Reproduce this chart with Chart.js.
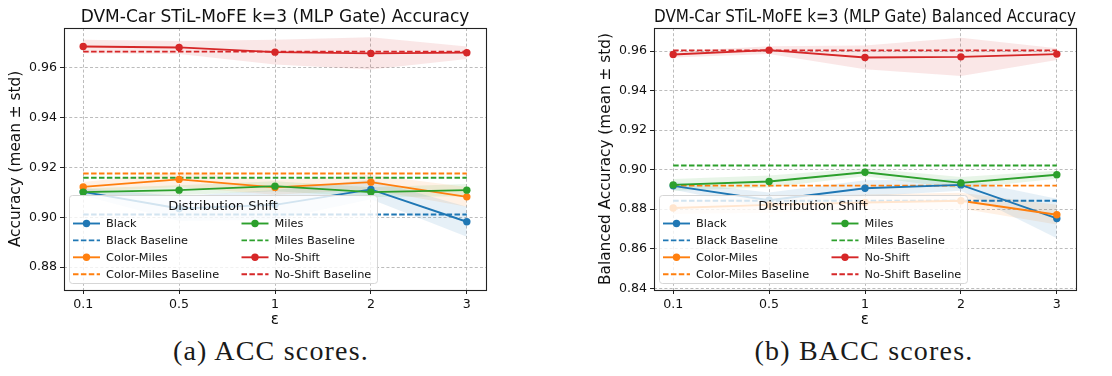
<!DOCTYPE html>
<html>
<head>
<meta charset="utf-8">
<script src="https://cdn.jsdelivr.net/npm/chart.js@4.4.1/dist/chart.umd.min.js"></script>
<style>
  body { margin: 0; background: #fff; width: 1112px; height: 376px; overflow: hidden; position: relative; }
  .pane { position: absolute; top: 0; width: 556px; height: 330px; }
  .caption { position: absolute; top: 335px; width: 400px; margin-left: -200px; font-family: "Liberation Serif", "DejaVu Serif", serif; font-size: 28px; letter-spacing: 1.2px; color: #1a1a1a; text-align: center; }
</style>
</head>
<body>
<div class="pane" style="left:0"><canvas id="accChart" width="556" height="330"></canvas></div>
<div class="pane" style="left:556px"><canvas id="baccChart" width="556" height="330"></canvas></div>
<div class="caption" style="left:271px">(a) ACC scores.</div>
<div class="caption" style="left:864px">(b) BACC scores.</div>
<script>
// epsilon values on the x axis
var epsLabels = ['0.1', '0.5', '1', '2', '3'];
var shiftNames = ['Black', 'Color-Miles', 'Miles', 'No-Shift'];
var shiftColors = ['#1f77b4', '#ff7f0e', '#2ca02c', '#d62728'];

// accuracy, mean and std per epsilon
var accBlack = [0.9102, 0.9035, 0.9050, 0.9112, 0.8982];
var accBlackStd = [0.0015, 0.0050, 0.0060, 0.0040, 0.0060];
var accColorMiles = [0.9122, 0.9152, 0.9120, 0.9141, 0.9082];
var accColorMilesStd = [0.0020, 0.0030, 0.0030, 0.0030, 0.0040];
var accMiles = [0.9101, 0.9109, 0.9125, 0.9101, 0.9109];
var accMilesStd = [0.0015, 0.0020, 0.0020, 0.0020, 0.0025];
var accNoShift = [0.9686, 0.9682, 0.9663, 0.9658, 0.9661];
var accNoShiftStd = [0.0027, 0.0026, 0.0050, 0.0065, 0.0025];
var accBaselines = [0.9011, 0.9176, 0.9159, 0.9665];
var accTicks = [0.88, 0.90, 0.92, 0.94, 0.96];

// balanced accuracy, mean and std per epsilon
var baccBlack = [0.8918, 0.8845, 0.8906, 0.8923, 0.8753];
var baccBlackStd = [0.0020, 0.0040, 0.0040, 0.0030, 0.0100];
var baccColorMiles = [0.8806, 0.8822, 0.8834, 0.8843, 0.8772];
var baccColorMilesStd = [0.0030, 0.0040, 0.0040, 0.0040, 0.0050];
var baccMiles = [0.8923, 0.8940, 0.8987, 0.8933, 0.8974];
var baccMilesStd = [0.0030, 0.0030, 0.0020, 0.0030, 0.0020];
var baccNoShift = [0.9583, 0.9605, 0.9568, 0.9571, 0.9585];
var baccNoShiftStd = [0.0015, 0.0020, 0.0060, 0.0097, 0.0030];
var baccBaselines = [0.8843, 0.8919, 0.9021, 0.9604];
var baccTicks = [0.84, 0.86, 0.88, 0.90, 0.92, 0.94, 0.96];

var FONT = "'DejaVu Sans', sans-serif";

function fade(hex, a) {
  var n = parseInt(hex.slice(1), 16);
  return 'rgba(' + (n >> 16) + ',' + ((n >> 8) & 255) + ',' + (n & 255) + ',' + a + ')';
}

function buildDatasets(means, stds, baselines) {
  var sets = [];
  // std bands: upper edge then lower edge filled back to it
  for (var i = 0; i < shiftNames.length; i++) {
    sets.push({
      label: shiftNames[i] + ' upper',
      data: means[i].map(function(m, j) { return { x: j, y: m + stds[i][j] }; }),
      borderWidth: 0, pointRadius: 0, fill: false, order: 20 + i
    });
    sets.push({
      label: shiftNames[i] + ' lower',
      data: means[i].map(function(m, j) { return { x: j, y: m - stds[i][j] }; }),
      borderWidth: 0, pointRadius: 0, fill: '-1',
      backgroundColor: fade(shiftColors[i], 0.11), order: 20 + i
    });
  }
  for (var i = 0; i < shiftNames.length; i++) {
    sets.push({
      label: shiftNames[i] + ' Baseline',
      data: [{ x: 0, y: baselines[i] }, { x: epsLabels.length - 1, y: baselines[i] }],
      borderColor: shiftColors[i], borderWidth: 1.9, borderDash: [5.5, 2.4],
      pointRadius: 0, fill: false, order: 15 - i
    });
  }
  for (var i = 0; i < shiftNames.length; i++) {
    sets.push({
      label: shiftNames[i],
      data: means[i].map(function(m, j) { return { x: j, y: m }; }),
      borderColor: shiftColors[i], backgroundColor: shiftColors[i], borderWidth: 1.9,
      pointRadius: 3.7, pointBorderWidth: 0, fill: false, order: 5 - i
    });
  }
  return sets;
}

// matplotlib-style legend drawn inside the lower left of the axes
var insideLegend = {
  id: 'insideLegend',
  afterDatasetsDraw: function(chart) {
    var ctx = chart.ctx, a = chart.chartArea;
    var bx = a.left + 5, by = a.bottom - 95, bw = 308, bh = 88;
    ctx.save();
    ctx.beginPath();
    ctx.roundRect(bx + 0.5, by + 0.5, bw, bh, 3);
    ctx.fillStyle = 'rgba(255,255,255,0.8)';
    ctx.fill();
    ctx.strokeStyle = '#d6d6d6';
    ctx.lineWidth = 1;
    ctx.stroke();
    ctx.fillStyle = '#111';
    ctx.font = '13px ' + FONT;
    ctx.textBaseline = 'middle';
    ctx.textAlign = 'center';
    ctx.fillText('Distribution Shift', bx + bw / 2, by + 11.5);
    ctx.font = '11.3px ' + FONT;
    ctx.textAlign = 'left';
    var entries = [];
    shiftNames.forEach(function(n, i) {
      entries.push({ text: n, color: shiftColors[i], dashed: false });
      entries.push({ text: n + ' Baseline', color: shiftColors[i], dashed: true });
    });
    entries.forEach(function(e, k) {
      var col = Math.floor(k / 4), row = k % 4;
      var hx = bx + 4 + col * 168.5, ty = by + 28.5 + row * 16.9;
      ctx.strokeStyle = e.color;
      ctx.lineWidth = 1.9;
      ctx.setLineDash(e.dashed ? [5.5, 2.4] : []);
      ctx.beginPath();
      ctx.moveTo(hx, ty);
      ctx.lineTo(hx + 27, ty);
      ctx.stroke();
      ctx.setLineDash([]);
      if (!e.dashed) {
        ctx.fillStyle = e.color;
        ctx.beginPath();
        ctx.arc(hx + 13.5, ty, 3.7, 0, Math.PI * 2);
        ctx.fill();
      }
      ctx.fillStyle = '#111';
      ctx.fillText(e.text, hx + 33, ty + 0.5);
    });
    ctx.restore();
  },
  afterDraw: function(chart) {
    var ctx = chart.ctx, a = chart.chartArea;
    ctx.save();
    ctx.strokeStyle = '#222';
    ctx.lineWidth = 1.1;
    ctx.strokeRect(Math.round(a.left) + 0.5, Math.round(a.top) + 0.5, Math.round(a.right - a.left), Math.round(a.bottom - a.top));
    ctx.restore();
  }
};

function makeChart(id, title, yTitle, sets, yTicks, yMin, yMax, padLeft, padRight) {
  return new Chart(document.getElementById(id), {
    type: 'line',
    data: { datasets: sets },
    plugins: [insideLegend],
    options: {
      responsive: false,
      animation: false,
      layout: { padding: { left: padLeft, right: padRight, top: 0, bottom: 0 } },
      plugins: {
        legend: { display: false },
        tooltip: { enabled: false },
        title: {
          display: true, text: title, fullSize: false, color: '#111',
          font: { family: FONT, size: 17, weight: 'normal' },
          padding: { top: 7, bottom: 0.6 }
        }
      },
      scales: {
        x: {
          type: 'linear', min: -0.2, max: epsLabels.length - 0.8,
          afterBuildTicks: function(s) { s.ticks = epsLabels.map(function(l, i) { return { value: i }; }); },
          afterFit: function(s) { s.height = 40; },
          ticks: { color: '#111', font: { family: FONT, size: 12.6 }, padding: 3,
            callback: function(v) { return epsLabels[v]; } },
          grid: { color: '#b4b4b4', lineWidth: 0.9, tickColor: '#222', tickLength: 4, tickWidth: 1 },
          border: { display: false, dash: [3, 2.2] },
          title: { display: true, text: 'ε', color: '#111', font: { family: FONT, size: 15.3 }, padding: { top: 0, bottom: 1 } }
        },
        y: {
          min: yMin, max: yMax,
          afterBuildTicks: function(s) { s.ticks = yTicks.map(function(v) { return { value: v }; }); },
          afterFit: function(s) { s.width = 60; },
          ticks: { color: '#111', font: { family: FONT, size: 12.6 }, padding: 3,
            callback: function(v) { return v.toFixed(2); } },
          grid: { color: '#b4b4b4', lineWidth: 0.9, tickColor: '#222', tickLength: 4, tickWidth: 1 },
          border: { display: false, dash: [3, 2.2] },
          title: { display: true, text: yTitle, color: '#111', font: { family: FONT, size: 15.3 }, padding: { top: 3, bottom: 1 } }
        }
      }
    }
  });
}

makeChart('accChart', 'DVM-Car STiL-MoFE k=3 (MLP Gate) Accuracy', 'Accuracy (mean ± std)',
  buildDatasets([accBlack, accColorMiles, accMiles, accNoShift],
    [accBlackStd, accColorMilesStd, accMilesStd, accNoShiftStd], accBaselines),
  accTicks, 0.8708, 0.9760, 4, 70);

makeChart('baccChart', 'DVM-Car STiL-MoFE k=3 (MLP Gate) Balanced Accuracy', 'Balanced Accuracy (mean ± std)',
  buildDatasets([baccBlack, baccColorMiles, baccMiles, baccNoShift],
    [baccBlackStd, baccColorMilesStd, baccMilesStd, baccNoShiftStd], baccBaselines),
  baccTicks, 0.8391, 0.9717, 38, 36);
</script>
</body>
</html>
